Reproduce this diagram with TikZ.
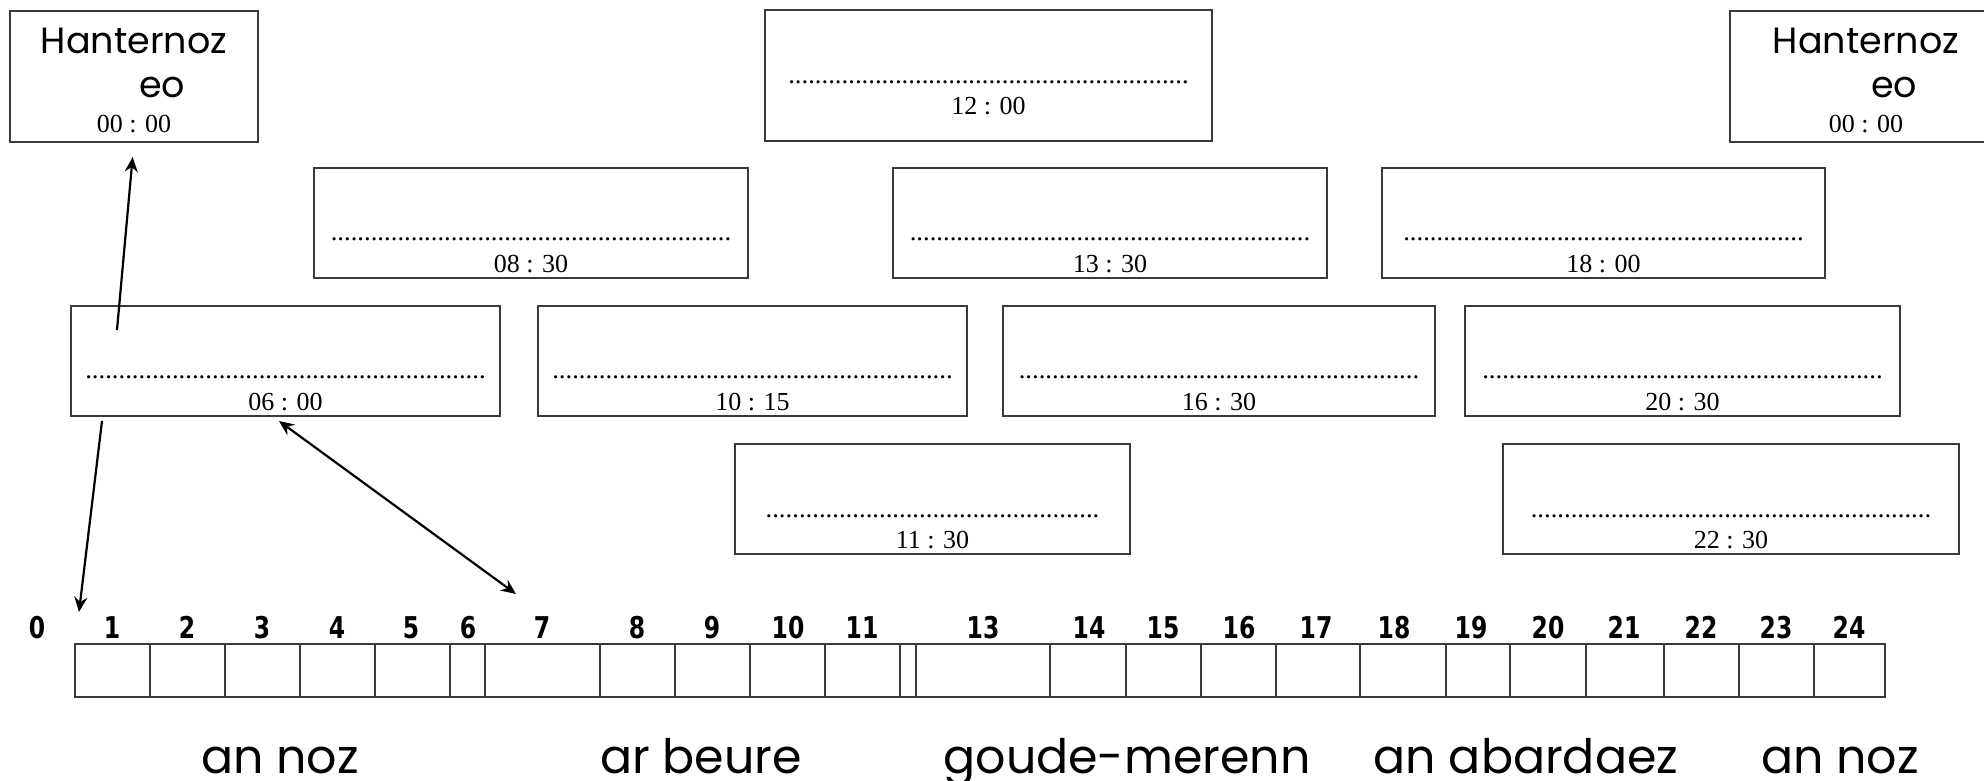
\documentclass[tikz,border=0pt]{standalone}
\usepackage{fontspec}
\setmainfont{Liberation Serif}
\newfontfamily\gothic{Poppins}
\newfontfamily\numfont{DejaVu Sans Condensed Bold}[FakeStretch=0.87]
\usetikzlibrary{arrows.meta}
\definecolor{boxgray}{HTML}{3A3A3A}
\tikzset{
  boxst/.style={draw=boxgray, line width=1.3pt, inner sep=0pt, outer sep=0pt},
  dotst/.style={inner sep=0pt, anchor=base, font=\fontsize{26.7}{30}\selectfont},
  lblst/.style={inner sep=0pt, anchor=base, font=\fontsize{26}{30}\selectfont},
  hanst/.style={inner sep=0pt, anchor=base, font=\gothic\fontsize{36.5}{44}\selectfont},
  numst/.style={inner sep=0pt, anchor=base, font=\numfont\fontsize{30}{34}\selectfont},
  partst/.style={inner sep=0pt, anchor=base, font=\gothic\fontsize{47.5}{56}\selectfont},
  cellst/.style={draw=boxgray, line width=1.3pt, inner sep=0pt, outer sep=0pt},
  tip/.tip={Stealth[length=15pt,width=13pt,inset=5pt]},
  arr/.style={line width=2.2pt, -tip},
  darr/.style={line width=2.2pt, tip-tip},
}
\newcommand\dotrow[1]{\foreach\k in {1,...,#1}{.}}
\newcommand\tbox[9]{%
  \node[boxst, minimum width={(#4-#2)*1pt}, minimum height={(#5-#3)*1pt}] (#1) at ({(#2+#4)/2},{(#3+#5)/2}) {};
  \node[dotst] (#1d) at ([yshift=#8pt]#1.south) {\dotrow{#7}};
  \node[lblst] (#1t) at ([yshift=#9pt]#1.south) {#6};
}
\begin{document}
\begin{tikzpicture}[x=1pt,y=-1pt]
\path[use as bounding box] (0,0) rectangle (1984,780);
\clip (0,0) rectangle (1984,780);

% Hanternoz boxes
\node[boxst, minimum width=248pt, minimum height=131pt] (hL) at (134,76.5) {};
\node[hanst] (hL1) at (134,53) {Hanternoz};
\node[hanst] (hL2) at (162,97) {eo};
\node[lblst] (hL3) at (134,132) {00 : 00};

\node[boxst, minimum width=272pt, minimum height=131pt] (hR) at (1866,76.5) {};
\node[hanst] (hR1) at (1866,53) {Hanternoz};
\node[hanst] (hR2) at (1894,97) {eo};
\node[lblst] (hR3) at (1866,132) {00 : 00};

% time boxes
\tbox{b1200}{765}{10}{1212}{141}{12 : 00}{60}{58}{27}
\tbox{b0830}{314}{168}{748}{278}{08 : 30}{60}{38}{6}
\tbox{b1330}{893}{168}{1327}{278}{13 : 30}{60}{38}{6}
\tbox{b1800}{1382}{168}{1825}{278}{18 : 00}{60}{38}{6}
\tbox{b0600}{71}{306}{500}{416}{06 : 00}{60}{38}{6}
\tbox{b1015}{538}{306}{967}{416}{10 : 15}{60}{38}{6}
\tbox{b1630}{1003}{306}{1435}{416}{16 : 30}{60}{38}{6}
\tbox{b2030}{1465}{306}{1900}{416}{20 : 30}{60}{38}{6}
\tbox{b1130}{735}{444}{1130}{554}{11 : 30}{50}{37}{6}
\tbox{b2230}{1503}{444}{1959}{554}{22 : 30}{60}{37}{6}

% timeline cells
\foreach \a/\b [count=\i] in {75/150,150/225,225/300,300/375,375/450,450/485,485/600,600/675,675/750,750/825,825/900,900/916,916/1050,1050/1126,1126/1201,1201/1276,1276/1360,1360/1446,1446/1510,1510/1586,1586/1664,1664/1739,1739/1814,1814/1885}
  \node[cellst, minimum width={(\b-\a)*1pt}, minimum height=53pt] (c\i) at ({(\a+\b)/2},670.5) {};

% hour numbers
\foreach \n/\x in {0/37,1/112,2/187,3/262,4/337,5/411,6/468,7/542,8/637,9/712,10/788,11/862,13/983,14/1089,15/1163,16/1239,17/1316,18/1394,19/1471,20/1548,21/1624,22/1701,23/1776,24/1849}
  \node[numst] (n\n) at (\x,638) {\n};

% parts of the day
\node[partst] (p1) at (280,773) {an noz};
\node[partst] (p2) at (701,773) {ar beure};
\node[partst] (p3) at (1127,773) {goude-merenn};
\node[partst] (p4) at (1526,773) {an abardaez};
\node[partst] (p5) at (1840,773) {an noz};

% arrows
\coordinate (a1s) at (117,330);
\draw[arr, shorten >=15pt] (a1s) -- (hL.south);
\coordinate (a2s) at (102,421);
\coordinate (a2e) at (79,612);
\draw[arr] (a2s) -- (a2e);
\coordinate (a3s) at (279,421);
\coordinate (a3e) at (516,594);
\draw[darr] (a3s) -- (a3e);
\end{tikzpicture}
\end{document}
